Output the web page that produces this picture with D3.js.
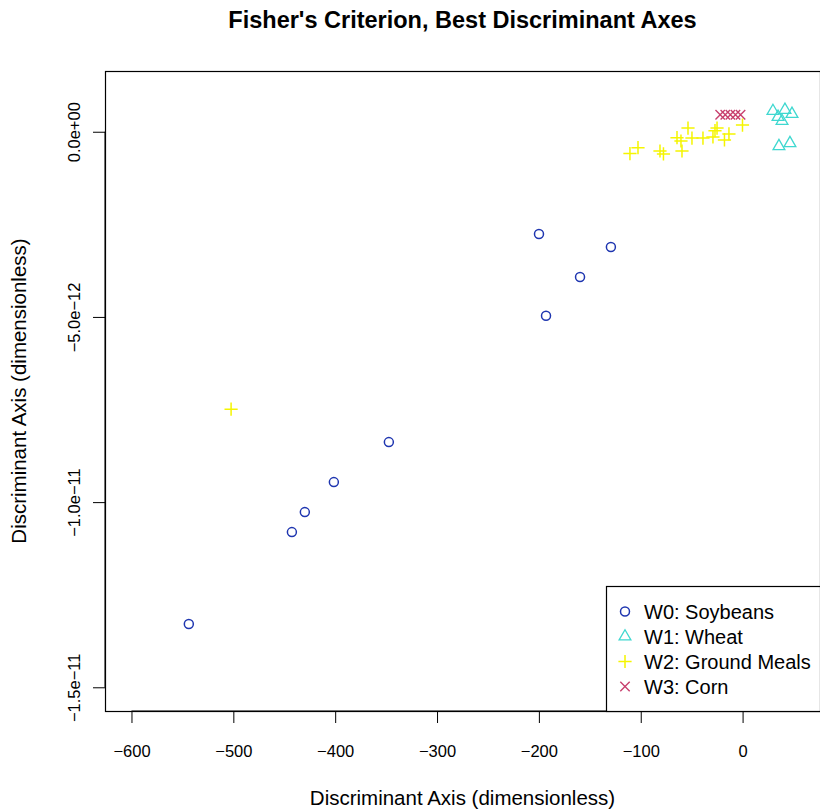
<!DOCTYPE html>
<html>
<head>
<meta charset="utf-8">
<script src="https://cdn.jsdelivr.net/npm/d3@7"></script>
<style>
  html, body { margin: 0; padding: 0; background: #fff; }
  svg { display: block; font-family: "Liberation Sans", Arial, Helvetica, sans-serif; }
</style>
</head>
<body>
<svg id="chart" width="820" height="812"></svg>
<script>
// Projection of each sample onto the two Fisher discriminant axes
const soybeanX = [-199.9, -129.3, -159.6, -193.0, -347.3, -401.3, -429.8, -442.5, -543.7];
const soybeanY = [-2.76e-12, -3.11e-12, -3.92e-12, -4.97e-12, -8.38e-12, -9.46e-12, -10.27e-12, -10.81e-12, -13.29e-12];

const wheatX = [29.8, 41.6, 48.5, 34.8, 38.7, 35.7, 46.5];
const wheatY = [0.56e-12, 0.59e-12, 0.48e-12, 0.40e-12, 0.29e-12, -0.39e-12, -0.31e-12];

const mealX = [-110.6, -102.7, -81.1, -77.7, -59.5, -64.4, -60.5, -53.6, -49.7, -38.9, -29.1, -25.1, -27.1, -17.8, -13.4, -0.1, -502.2];
const mealY = [-0.59e-12, -0.43e-12, -0.52e-12, -0.60e-12, -0.52e-12, -0.16e-12, -0.25e-12, 0.10e-12, -0.17e-12, -0.17e-12, -0.14e-12, 0.10e-12, 0.03e-12, -0.22e-12, -0.06e-12, 0.18e-12, -7.49e-12];

const cornX = [-22, -17, -12, -7, -2];
const cornY = [0.46e-12, 0.46e-12, 0.46e-12, 0.46e-12, 0.46e-12];

const xTicks = [-600, -500, -400, -300, -200, -100, 0];
const yTicks = [0, -5e-12, -1e-11, -1.5e-11];
const yTickLabels = ["0.0e+00", "\u22125.0e\u221212", "\u22121.0e\u221211", "\u22121.5e\u221211"];

const classNames = ["W0: Soybeans", "W1: Wheat", "W2: Ground Meals", "W3: Corn"];
const classColors = ["#1f36b0", "#3fd8d0", "#f5f500", "#c8406e"];
const classShapes = ["circle", "triangle", "plus", "cross"];

const titleText = "Fisher's Criterion, Best Discriminant Axes";
const xLabel = "Discriminant Axis (dimensionless)";
const yLabel = "Discriminant Axis (dimensionless)";

// Axis limits, padded 4% on each side
const xLim = [-600, 50], yLim = [-1.5e-11, 1e-12];
const padX = (xLim[1] - xLim[0]) * 0.04, padY = (yLim[1] - yLim[0]) * 0.04;

const box = { left: 105, right: 820, top: 71, bottom: 711 };

const svg = d3.select("#chart");

const x = d3.scaleLinear().domain([xLim[0] - padX, xLim[1] + padX]).range([box.left, box.right]);
const y = d3.scaleLinear().domain([yLim[0] - padY, yLim[1] + padY]).range([box.bottom, box.top]);

// Marker drawing helpers
function drawMarker(g, shape, color) {
  if (shape === "circle") {
    g.append("circle").attr("r", 4.5).attr("fill", "none").attr("stroke", color).attr("stroke-width", 1.5);
  } else if (shape === "triangle") {
    const r = 6.8, xc = r * Math.sqrt(3) / 2, yc = r / 2;
    g.append("path").attr("d", `M0,${-r}L${xc},${yc}L${-xc},${yc}Z`)
      .attr("fill", "none").attr("stroke", color).attr("stroke-width", 1.3);
  } else if (shape === "plus") {
    const h = 6.6;
    g.append("path").attr("d", `M${-h},0H${h}M0,${-h}V${h}`)
      .attr("stroke", color).attr("stroke-width", 1.5).attr("fill", "none");
  } else {
    const h = 4.7;
    g.append("path").attr("d", `M${-h},${-h}L${h},${h}M${-h},${h}L${h},${-h}`)
      .attr("stroke", color).attr("stroke-width", 1.4).attr("fill", "none");
  }
}

const series = [
  { xs: soybeanX, ys: soybeanY },
  { xs: wheatX, ys: wheatY },
  { xs: mealX, ys: mealY },
  { xs: cornX, ys: cornY }
];

const plot = svg.append("g");
series.forEach((s, i) => {
  s.xs.forEach((xv, j) => {
    const g = plot.append("g").attr("transform", `translate(${x(xv)},${y(s.ys[j])})`);
    drawMarker(g, classShapes[i], classColors[i]);
  });
});

// Bottom axis
const xAxis = svg.append("g").attr("transform", `translate(0,${box.bottom})`)
  .call(d3.axisBottom(x).tickValues(xTicks).tickSize(12).tickPadding(22)
    .tickFormat(d => d < 0 ? "\u2212" + Math.abs(d) : String(d)));
xAxis.select(".domain").attr("d", `M${x(xTicks[0])},0H${x(xTicks[xTicks.length - 1])}`)
  .attr("stroke", "#000").attr("stroke-width", 1);
xAxis.selectAll("text").attr("font-size", 16.5).attr("fill", "#000")
  .attr("font-family", "Liberation Sans, Arial, sans-serif");
xAxis.selectAll(".tick line").attr("stroke", "#000");

// Left axis with rotated labels
const yAxis = svg.append("g").attr("transform", `translate(${box.left},0)`)
  .call(d3.axisLeft(y).tickValues(yTicks).tickSize(12).tickFormat((d, i) => yTickLabels[i]));
yAxis.select(".domain").attr("d", `M0,${y(yTicks[0])}V${y(yTicks[yTicks.length - 1])}`)
  .attr("stroke", "#000");
yAxis.selectAll(".tick line").attr("stroke", "#000");
yAxis.selectAll(".tick text")
  .attr("x", null).attr("dy", null)
  .attr("transform", "translate(-25,0) rotate(-90)")
  .attr("text-anchor", "middle")
  .attr("font-size", 16.5).attr("fill", "#000")
  .attr("font-family", "Liberation Sans, Arial, sans-serif");

// Plot frame
svg.append("rect")
  .attr("x", box.left + 0.5).attr("y", box.top + 0.5)
  .attr("width", box.right - box.left).attr("height", box.bottom - box.top)
  .attr("fill", "none").attr("stroke", "#000").attr("stroke-width", 1.2);

// Legend, anchored bottom-right inside the frame
const legend = { left: 606, top: 586 };
svg.append("rect")
  .attr("x", legend.left + 0.5).attr("y", legend.top + 0.5)
  .attr("width", box.right - legend.left).attr("height", box.bottom - legend.top)
  .attr("fill", "#fff").attr("stroke", "#000").attr("stroke-width", 1.2);
classNames.forEach((name, i) => {
  const cy = 611.5 + i * 25;
  const g = svg.append("g").attr("transform", `translate(625,${cy})`);
  drawMarker(g, classShapes[i], classColors[i]);
  svg.append("text").attr("x", 644).attr("y", cy + 7)
    .attr("font-size", 20).attr("fill", "#000").text(name);
});

// Titles
svg.append("text").attr("x", (box.left + box.right) / 2).attr("y", 28)
  .attr("text-anchor", "middle").attr("font-size", 23.5).attr("font-weight", "bold")
  .text(titleText);
svg.append("text").attr("x", (box.left + box.right) / 2).attr("y", 805)
  .attr("text-anchor", "middle").attr("font-size", 20.5).text(xLabel);
svg.append("text").attr("transform", `translate(26,${(box.top + box.bottom) / 2}) rotate(-90)`)
  .attr("text-anchor", "middle").attr("font-size", 20.5).text(yLabel);
</script>
</body>
</html>
